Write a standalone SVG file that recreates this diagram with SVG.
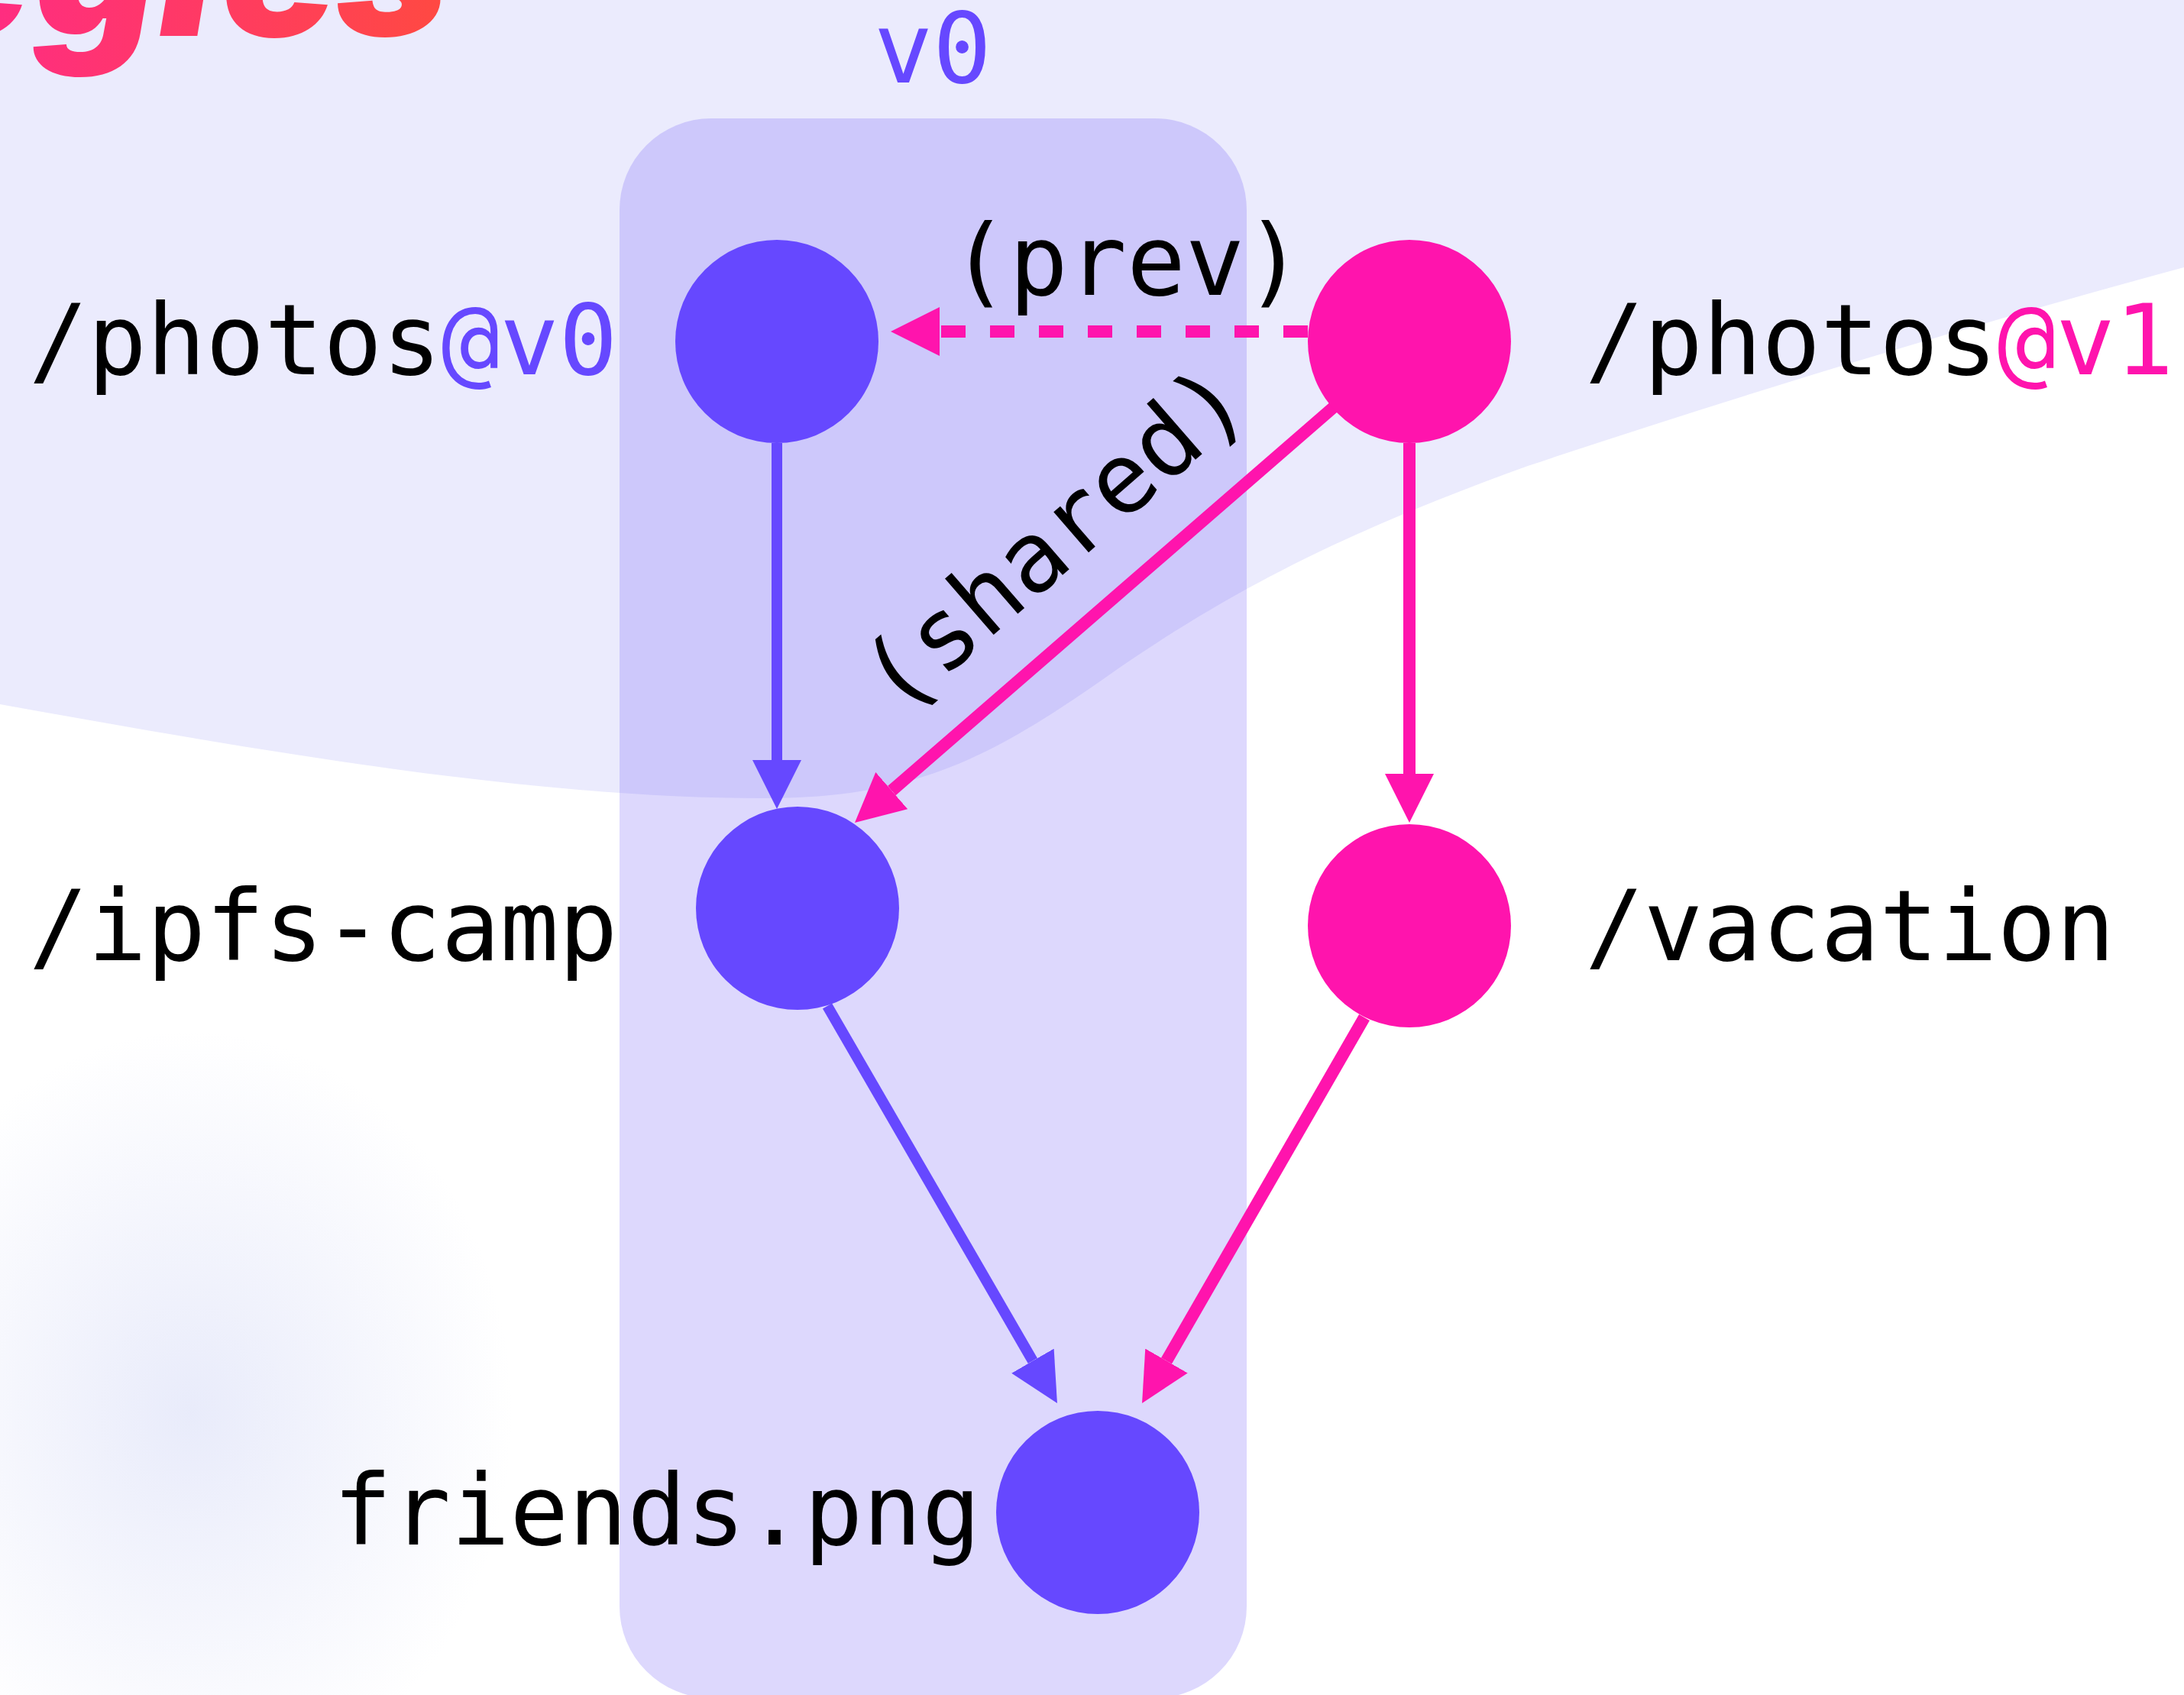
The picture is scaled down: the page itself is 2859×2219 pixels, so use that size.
<svg xmlns="http://www.w3.org/2000/svg" width="2859" height="2219" viewBox="0 0 2859 2219">
  <defs>
    <style>
      .lbl { font-family: "DejaVu Sans Mono", "Liberation Mono", monospace; font-size: 128px; fill: #000; }
      .pur { fill: #6648FF; }
      .pnk { fill: #FF14AD; }
      .ep { stroke: #6648FF; stroke-width: 14; fill: none; }
      .ek { stroke: #FF14AD; stroke-width: 16; fill: none; }
      .title { font-family: Inter, "Liberation Sans", sans-serif; font-weight: 900; font-style: italic; font-size: 250px; }
    </style>
    <linearGradient id="tg" gradientUnits="userSpaceOnUse" x1="0" y1="0" x2="600" y2="0">
      <stop offset="0" stop-color="#FF2D80"/>
      <stop offset="1" stop-color="#FF4A40"/>
    </linearGradient>
    <radialGradient id="blob" cx="0.5" cy="0.5" r="0.5">
      <stop offset="0" stop-color="#E6E9FA" stop-opacity="0.9"/>
      <stop offset="1" stop-color="#E6E9FA" stop-opacity="0"/>
    </radialGradient>
    <marker id="ahp" viewBox="0 -32 64 64" markerWidth="64" markerHeight="64" refX="0" refY="0" markerUnits="userSpaceOnUse" orient="auto">
      <path d="M0,-32 L64,0 L0,32 Z" fill="#6648FF"/>
    </marker>
    <marker id="ahk" viewBox="0 -32 64 64" markerWidth="64" markerHeight="64" refX="0" refY="0" markerUnits="userSpaceOnUse" orient="auto">
      <path d="M0,-32 L64,0 L0,32 Z" fill="#FF14AD"/>
    </marker>
  </defs>

  <g id="background">
    <rect x="0" y="0" width="2859" height="2219" fill="#FFFFFF"/>
    <ellipse cx="250" cy="1850" rx="420" ry="500" fill="url(#blob)"/>
    <path d="M0,922 C350,985 700,1045 1000,1045 C1200,1045 1300,990 1450,885 C1600,780 1750,700 2000,610 C2300,510 2600,420 2859,350 V0 H0 Z" fill="#EBEBFD"/>
  </g>

  <g id="title">
    <text class="title" fill="url(#tg)" x="-110 45 208 290 440" y="47">egies</text>
  </g>

  <g id="group-v0">
    <rect x="811" y="155" width="821" height="2068" rx="120" ry="120" fill="#5F48F5" fill-opacity="0.21"/>
    <text class="lbl" x="1221" y="108" text-anchor="middle" fill="#6648FF" style="fill:#6648FF">v0</text>
  </g>

  <g id="connectors">
    <path class="ep" d="M1017,580 V995" marker-end="url(#ahp)"/>
    <path class="ek" d="M1845,580 V1013" marker-end="url(#ahk)"/>
    <path class="ek" d="M1712,434 H1230" stroke-dasharray="32 32" marker-end="url(#ahk)"/>
    <path class="ek" d="M1747,532 L1167.3,1035.1" marker-end="url(#ahk)"/>
    <path class="ep" d="M1083,1317 L1351.9,1781.6" marker-end="url(#ahp)"/>
    <path class="ek" d="M1786,1332 L1527,1781.5" marker-end="url(#ahk)"/>
    <text class="lbl" x="1475" y="386" text-anchor="middle">(prev)</text>
    <text class="lbl" text-anchor="middle" transform="translate(1408,738) rotate(-40.95)">(shared)</text>
  </g>

  <g id="node-photos-v0">
    <circle class="pur" cx="1017" cy="447" r="133"/>
    <text class="lbl" x="38" y="490">/photos<tspan style="fill:#6648FF">@v0</tspan></text>
  </g>
  <g id="node-photos-v1">
    <circle class="pnk" cx="1845" cy="447" r="133"/>
    <text class="lbl" x="2075" y="490">/photos<tspan style="fill:#FF14AD">@v1</tspan></text>
  </g>
  <g id="node-ipfs-camp">
    <circle class="pur" cx="1044" cy="1189" r="133"/>
    <text class="lbl" x="38" y="1257">/ipfs-camp</text>
  </g>
  <g id="node-vacation">
    <circle class="pnk" cx="1845" cy="1212" r="133"/>
    <text class="lbl" x="2075" y="1257">/vacation</text>
  </g>
  <g id="node-friends">
    <circle class="pur" cx="1437" cy="1980" r="133"/>
    <text class="lbl" x="436" y="2022">friends.png</text>
  </g>
</svg>
